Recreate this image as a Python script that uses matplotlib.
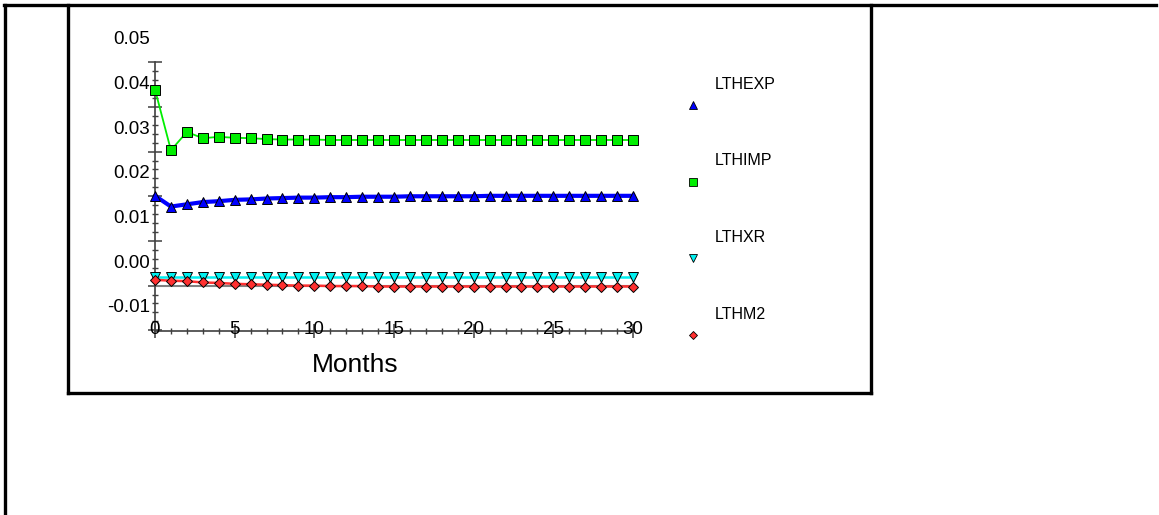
import numpy as np
import matplotlib
matplotlib.use("Agg")
import matplotlib.pyplot as plt
from matplotlib.lines import Line2D
from matplotlib.ticker import FixedLocator
import matplotlib.transforms as mtransforms

# 数据
months = list(range(31))
lthexp = [0.0151, 0.0127, 0.0132, 0.0137, 0.0139, 0.0142, 0.0143, 0.0145, 0.0146, 0.0147,
          0.0147, 0.0148, 0.0148, 0.0149, 0.0149, 0.0149, 0.0150, 0.0150, 0.0150, 0.0150,
          0.0150, 0.0151, 0.0151, 0.0151, 0.0151, 0.0151, 0.0151, 0.0151, 0.0151, 0.0151,
          0.0151]
lthimp = [0.0389, 0.0253, 0.0294, 0.0280, 0.0283, 0.0281, 0.0280, 0.0278, 0.0277, 0.0277,
          0.0277, 0.0276, 0.0276, 0.0276, 0.0276, 0.0276, 0.0276, 0.0276, 0.0276, 0.0276,
          0.0276, 0.0276, 0.0276, 0.0276, 0.0276, 0.0276, 0.0276, 0.0276, 0.0276, 0.0276,
          0.0276]
lthxr = [-0.0030] * 31
lthm2 = [-0.0037, -0.0039, -0.0040, -0.0043, -0.0044, -0.0046, -0.0047, -0.0048, -0.0049, -0.0050,
         -0.0050, -0.0051, -0.0051, -0.0051, -0.0052, -0.0052, -0.0052, -0.0052, -0.0052, -0.0052,
         -0.0052, -0.0052, -0.0052, -0.0052, -0.0052, -0.0052, -0.0052, -0.0052, -0.0052, -0.0052,
         -0.0052]
ref_level = -0.0051

ytick_vals = [0.05, 0.04, 0.03, 0.02, 0.01, 0.00, -0.01]
ytick_labels = ["0.05", "0.04", "0.03", "0.02", "0.01", "0.00", "-0.01"]
xtick_vals = [0, 5, 10, 15, 20, 25, 30]
xtick_labels = ["0", "5", "10", "15", "20", "25", "30"]

series = [
    ("LTHEXP", lthexp, "#0000ff", "^", 3.0, 7.5),
    ("LTHIMP", lthimp, "#00ee00", "s", 1.3, 7.4),
    ("LTHXR", lthxr, "#00f0f0", "v", 1.8, 7.5),
    ("LTHM2", lthm2, "#ff3030", "D", 1.8, 5.2),
]

W, H = 1159, 515
FONT = ["Liberation Sans", "DejaVu Sans"]
FONT_N = ["Liberation Sans Narrow", "Liberation Sans", "DejaVu Sans"]


def fx(x):
    return x / W


def fy(y):
    return 1 - y / H


fig = plt.figure(figsize=(W / 100, H / 100), dpi=100)

# 外框
for xs, ys in [((4, 1156), (5, 5)), ((5, 5), (5, 513)),
               ((68, 68), (5, 393)), ((68, 871), (393, 393)), ((871, 871), (5, 393))]:
    fig.add_artist(Line2D([fx(xs[0]), fx(xs[1])], [fy(ys[0]), fy(ys[1])],
                          transform=fig.transFigure, color="black", lw=2.4))

ax = fig.add_axes([fx(155), fy(331), (633 - 155) / W, (331 - 62) / H])
ax.patch.set_alpha(0)
ax.set_xlim(0, 30)
ax.set_ylim(-0.01516, 0.04506)
for s in ["top", "right"]:
    ax.spines[s].set_visible(False)
for s in ["left", "bottom"]:
    ax.spines[s].set_color("#404040")
    ax.spines[s].set_linewidth(1.2)

ax.yaxis.set_major_locator(FixedLocator(np.arange(-0.015, 0.0451, 0.01)))
ax.yaxis.set_minor_locator(FixedLocator(np.arange(-0.015, 0.0451, 0.002)))
ax.xaxis.set_major_locator(FixedLocator(xtick_vals))
ax.xaxis.set_minor_locator(FixedLocator(months))
ax.tick_params(which="major", direction="inout", length=10, width=1.1, color="#404040",
               labelleft=False, labelbottom=False)
ax.tick_params(which="minor", direction="inout", length=5, width=1.0, color="#404040")

ax.plot([0, 30], [ref_level, ref_level], color="#808080", lw=1.5, zorder=2)

for name, vals, col, mk, lw, ms in series:
    ax.plot(months, vals, color=col, lw=lw, marker=mk, markersize=ms,
            markerfacecolor=col, markeredgecolor="black", markeredgewidth=0.7,
            zorder=3, clip_on=False)

# 刻度标签
ytrans = mtransforms.blended_transform_factory(ax.transAxes, ax.transData)
for v, lab in zip(ytick_vals, ytick_labels):
    ax.text(-5 / 478, v, lab, transform=ytrans, ha="right", va="center",
            fontsize=13.5, family=FONT, clip_on=False)
xtrans = mtransforms.blended_transform_factory(ax.transData, ax.transAxes)
for v, lab in zip(xtick_vals, xtick_labels):
    ax.text(v, 1 / 269, lab, transform=xtrans, ha="center", va="center",
            fontsize=13.5, family=FONT, clip_on=False)

fig.text(fx(355), fy(365), "Months", ha="center", va="center", fontsize=19, family=FONT)

# 图例
for i, (name, vals, col, mk, lw, ms) in enumerate(series):
    my = 105 + i * 76.7
    fig.add_artist(Line2D([fx(693)], [fy(my)], transform=fig.transFigure, linestyle="none",
                          marker=mk, markersize=ms * 0.8, markerfacecolor=col,
                          markeredgecolor="black", markeredgewidth=0.6))
    fig.text(fx(715), fy(my - 21), name, ha="left", va="center", fontsize=11.5, family=FONT_N)

fig.savefig("out.png", dpi=100)
